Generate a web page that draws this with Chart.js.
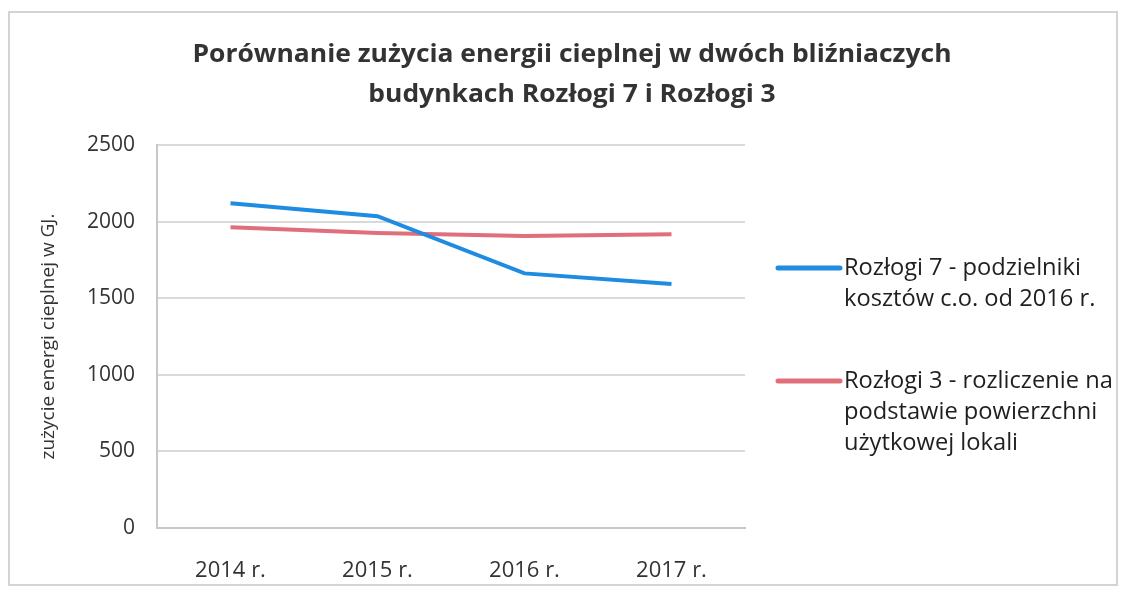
<!DOCTYPE html>
<html>
<head>
<meta charset="utf-8">
<script src="https://cdn.jsdelivr.net/npm/chart.js@4/dist/chart.umd.min.js"></script>
<style>
  body { margin: 0; background: #fff; }
  canvas { display: block; }
</style>
</head>
<body>
<canvas id="chart" width="1125" height="591"></canvas>
<script>
// data
const years = ['2014 r.', '2015 r.', '2016 r.', '2017 r.'];
const rozlogi7 = [2120, 2035, 1662, 1593];
const rozlogi3 = [1963, 1925, 1906, 1917];
const yTicks = [0, 500, 1000, 1500, 2000, 2500];

const titleLines = ['Porównanie zużycia energii cieplnej w dwóch bliźniaczych', 'budynkach Rozłogi 7 i Rozłogi 3'];
const legendLines = [
    ['Rozłogi 7 - podzielniki', 'kosztów c.o. od 2016 r.'],
    ['Rozłogi 3 - rozliczenie na', 'podstawie powierzchni', 'użytkowej lokali']
];

const FONT = "'Open Sans', 'DejaVu Sans', sans-serif";
const TEXT = '#333333';

// text stretched a little sideways, like the scanned original
function wideText(c, t, x, y, sx) {
    c.save();
    c.translate(x, y);
    c.scale(sx, 1);
    c.fillText(t, 0, 0);
    c.restore();
}

// frame, title and the multi-line legend
const decor = {
    id: 'decor',
    beforeDraw: function (chart) {
        const c = chart.ctx;
        c.save();
        c.fillStyle = '#fff';
        c.fillRect(0, 0, chart.width, chart.height);
        c.strokeStyle = '#d4d4d4';
        c.lineWidth = 2;
        c.strokeRect(9, 12, 1108, 573);
        c.restore();
    },
    afterDraw: function (chart) {
        const c = chart.ctx;
        c.save();
        c.fillStyle = TEXT;
        c.textAlign = 'center';
        c.textBaseline = 'middle';
        c.font = 'bold 25px ' + FONT;
        const sx = 759 / c.measureText(titleLines[0]).width;
        wideText(c, titleLines[0], 572, 55, sx);
        wideText(c, titleLines[1], 572, 95, sx);

        const starts = [268, 381];
        chart.data.datasets.forEach(function (ds, i) {
            const y0 = starts[i];
            c.strokeStyle = ds.borderColor;
            c.lineWidth = 5;
            c.lineCap = 'round';
            c.beginPath();
            c.moveTo(778, y0);
            c.lineTo(840, y0);
            c.stroke();
            c.fillStyle = '#1f1f1f';
            c.textAlign = 'left';
            c.font = '500 24px ' + FONT;
            const lx = 237 / c.measureText(legendLines[0][0]).width;
            legendLines[i].forEach(function (t, k) {
                wideText(c, t, 844, y0 + k * 31, lx);
            });
        });
        c.restore();
    }
};

new Chart(document.getElementById('chart'), {
    type: 'line',
    data: {
        labels: years,
        datasets: [
            {
                label: legendLines[0].join(' '),
                data: rozlogi7,
                borderColor: '#1E8CE0',
                borderWidth: 4,
                pointRadius: 0,
                tension: 0
            },
            {
                label: legendLines[1].join(' '),
                data: rozlogi3,
                borderColor: '#E06F7B',
                borderWidth: 4,
                pointRadius: 0,
                tension: 0
            }
        ]
    },
    plugins: [decor],
    options: {
        responsive: false,
        animation: false,
        devicePixelRatio: 1,
        layout: { padding: { top: 145, right: 380, left: 0, bottom: 0 } },
        plugins: {
            legend: { display: false },
            title: { display: false },
            tooltip: { enabled: false }
        },
        scales: {
            x: {
                offset: true,
                grid: { display: false },
                border: { color: '#c8c8c8', width: 2 },
                ticks: { color: TEXT, font: { family: FONT, size: 22, weight: '500' }, padding: 22 },
                afterFit: function (s) { s.height = 63; }
            },
            y: {
                min: 0,
                max: 2500,
                afterBuildTicks: function (s) { s.ticks = yTicks.map(function (v) { return { value: v }; }); },
                grid: { color: '#d9d9d9', lineWidth: 2, drawTicks: false },
                border: { color: '#c8c8c8', width: 2 },
                ticks: {
                    color: TEXT,
                    font: { family: FONT, size: 21, weight: '500' },
                    padding: 22,
                    callback: function (v) { return String(v); }
                },
                title: {
                    display: true,
                    text: 'zużycie energi cieplnej w GJ.',
                    color: TEXT,
                    font: { family: FONT, size: 19 },
                    padding: { top: 37, bottom: 0 }
                },
                afterFit: function (s) { s.width = 157; }
            }
        }
    }
});
</script>
</body>
</html>
